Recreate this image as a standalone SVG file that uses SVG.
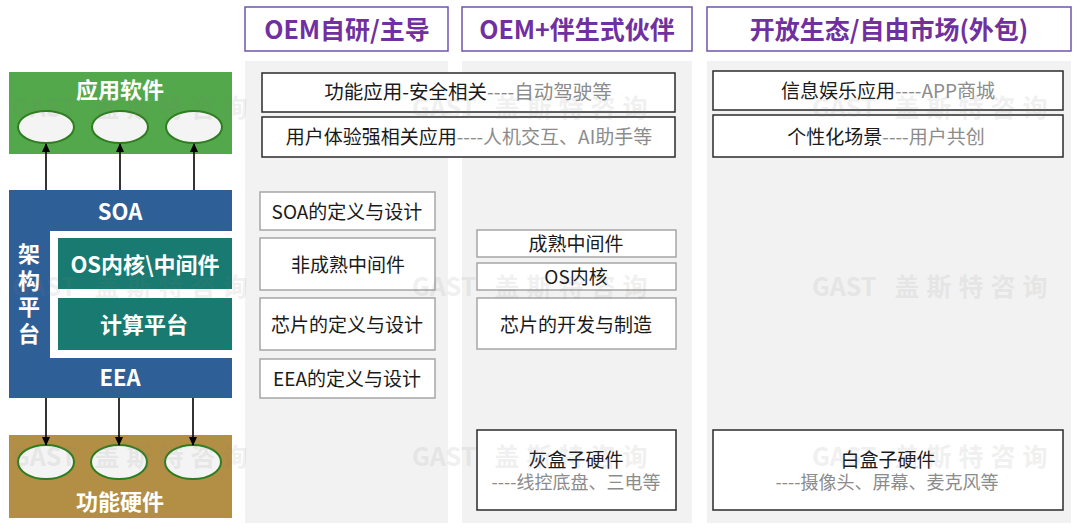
<svg xmlns="http://www.w3.org/2000/svg" width="1080" height="532" viewBox="0 0 1080 532">
<defs>
<style>
.t{font-family:"Noto Sans CJK SC","Noto Sans",sans-serif;dominant-baseline:central;text-anchor:middle}
.wb{fill:#fff;font-weight:bold;font-size:22px}
.hd{fill:#7030a0;font-weight:bold;font-size:25px}
.bx{font-size:19px;fill:#1a1a1a}
.g{fill:#8c8c8c}
.sm{font-size:18px}
.hbox{fill:#fff;stroke:#6f55a8;stroke-width:1.5}
.panel{fill:#f2f2f2}
.dk{fill:#fff;stroke:#2b2b2b;stroke-width:1.5}
.lt{fill:#fff;stroke:#a6a6a6;stroke-width:1.5}
.ell{fill:#f4f4f4;stroke:#2e7d1f;stroke-width:2}
.wm{font-family:"Noto Sans CJK SC","Noto Sans",sans-serif;font-weight:bold;font-size:25px;fill:#808080;opacity:0.11;dominant-baseline:central}
.arr{stroke:#000;stroke-width:1.6;fill:none;marker-end:url(#ah)}
</style>
<marker id="ah" markerWidth="10" markerHeight="10" refX="8" refY="5" orient="auto" markerUnits="userSpaceOnUse">
<path d="M0,1 L9,5 L0,9 Z" fill="#000"/>
</marker>
</defs>
<rect width="1080" height="532" fill="#fff"/>

<g id="headers">
<rect class="hbox" x="245" y="7" width="203" height="44"/>
<text class="t hd" x="347" y="28">OEM自研/主导</text>
<rect class="hbox" x="462" y="7" width="230" height="44"/>
<text class="t hd" x="577" y="28">OEM+伴生式伙伴</text>
<rect class="hbox" x="707" y="7" width="364" height="44"/>
<text class="t hd" x="889" y="28">开放生态/自由市场(外包)</text>
</g>

<g id="panels">
<rect class="panel" x="245" y="61" width="203" height="462"/>
<rect class="panel" x="462" y="61" width="230" height="462"/>
<rect class="panel" x="707" y="61" width="364" height="462"/>
</g>

<g id="app-software">
<rect x="9" y="72" width="223" height="82" fill="#52a84a"/>
<text class="t wb" x="120" y="88">应用软件</text>
<ellipse class="ell" cx="46" cy="127" rx="28" ry="16"/>
<ellipse class="ell" cx="120" cy="127" rx="28" ry="16"/>
<ellipse class="ell" cx="194" cy="127" rx="28" ry="16"/>
</g>

<g id="arch-platform">
<rect x="9" y="190" width="223" height="208" fill="#2f5f97"/>
<rect x="50" y="231" width="182" height="127" fill="#fff"/>
<text class="t wb" x="120" y="210">SOA</text>
<text class="t wb" x="120" y="376">EEA</text>
<text class="wb" x="29" y="243" style="font-family:'Noto Sans CJK SC',sans-serif;writing-mode:vertical-rl;letter-spacing:4.5px;text-anchor:start">架构平台</text>
</g>
<g id="os-kernel">
<rect x="58" y="238" width="174" height="51" fill="#187a70"/>
<text class="t wb" x="145" y="263">OS内核\中间件</text>
</g>
<g id="compute-platform">
<rect x="58" y="298" width="174" height="52" fill="#187a70"/>
<text class="t wb" x="144" y="323">计算平台</text>
</g>

<g id="func-hardware">
<rect x="9" y="435" width="223" height="83" fill="#b38f45"/>
<ellipse class="ell" cx="46" cy="462" rx="28" ry="17"/>
<ellipse class="ell" cx="119" cy="462" rx="28" ry="17"/>
<ellipse class="ell" cx="193" cy="462" rx="28" ry="17"/>
<text class="t wb" x="120" y="500">功能硬件</text>
</g>

<g id="connectors">
<line class="arr" x1="46" y1="190" x2="46" y2="144"/>
<line class="arr" x1="120" y1="190" x2="120" y2="144"/>
<line class="arr" x1="194" y1="190" x2="194" y2="144"/>
<line class="arr" x1="46" y1="398" x2="46" y2="445"/>
<line class="arr" x1="119" y1="398" x2="119" y2="445"/>
<line class="arr" x1="193" y1="398" x2="193" y2="445"/>
</g>

<g id="safety-apps">
<rect class="dk" x="262" y="73" width="413" height="39"/>
<text class="t bx" x="468" y="90" style="font-size:19.5px">功能应用-安全相关<tspan class="g">----自动驾驶等</tspan></text>
</g>
<g id="ux-apps">
<rect class="dk" x="262" y="117" width="413" height="40"/>
<text class="t bx" x="469" y="135">用户体验强相关应用<tspan class="g">----人机交互、AI助手等</tspan></text>
</g>
<g id="soa-def">
<rect class="lt" x="260" y="192" width="175" height="38"/>
<text class="t bx" x="347" y="210">SOA的定义与设计</text>
</g>
<g id="immature-mw">
<rect class="lt" x="260" y="238" width="175" height="52"/>
<text class="t bx" x="348" y="263">非成熟中间件</text>
</g>
<g id="chip-def">
<rect class="lt" x="260" y="298" width="175" height="52"/>
<text class="t bx" x="347" y="323">芯片的定义与设计</text>
</g>
<g id="eea-def">
<rect class="lt" x="260" y="359" width="175" height="39"/>
<text class="t bx" x="347" y="377">EEA的定义与设计</text>
</g>
<g id="mature-mw">
<rect class="lt" x="477" y="230" width="199" height="27"/>
<text class="t bx" x="576" y="242">成熟中间件</text>
</g>
<g id="os-core">
<rect class="lt" x="477" y="263" width="199" height="27"/>
<text class="t bx" x="576" y="275">OS内核</text>
</g>
<g id="chip-dev">
<rect class="lt" x="477" y="298" width="199" height="51"/>
<text class="t bx" x="576" y="323">芯片的开发与制造</text>
</g>
<g id="gray-box-hw">
<rect class="dk" x="477" y="430" width="199" height="80"/>
<text class="t bx" x="576" y="458">灰盒子硬件</text>
<text class="t bx g sm" x="576" y="481">----线控底盘、三电等</text>
</g>
<g id="infotainment">
<rect class="dk" x="713" y="71" width="350" height="39"/>
<text class="t bx" x="888" y="89">信息娱乐应用<tspan class="g">----APP商城</tspan></text>
</g>
<g id="personal-scenes">
<rect class="dk" x="713" y="115" width="350" height="42"/>
<text class="t bx" x="886" y="135">个性化场景<tspan class="g">----用户共创</tspan></text>
</g>
<g id="white-box-hw">
<rect class="dk" x="713" y="430" width="350" height="80"/>
<text class="t bx" x="888" y="458">白盒子硬件</text>
<text class="t bx g sm" x="887" y="481">----摄像头、屏幕、麦克风等</text>
</g>

<g id="watermarks">
<text class="wm" x="12" y="106">GAST<tspan dx="18" letter-spacing="7">盖斯特咨询</tspan></text>
<text class="wm" x="412" y="106">GAST<tspan dx="18" letter-spacing="7">盖斯特咨询</tspan></text>
<text class="wm" x="812" y="106">GAST<tspan dx="18" letter-spacing="7">盖斯特咨询</tspan></text>
<text class="wm" x="12" y="285">GAST<tspan dx="18" letter-spacing="7">盖斯特咨询</tspan></text>
<text class="wm" x="412" y="285">GAST<tspan dx="18" letter-spacing="7">盖斯特咨询</tspan></text>
<text class="wm" x="812" y="285">GAST<tspan dx="18" letter-spacing="7">盖斯特咨询</tspan></text>
<text class="wm" x="12" y="455">GAST<tspan dx="18" letter-spacing="7">盖斯特咨询</tspan></text>
<text class="wm" x="412" y="455">GAST<tspan dx="18" letter-spacing="7">盖斯特咨询</tspan></text>
<text class="wm" x="812" y="455">GAST<tspan dx="18" letter-spacing="7">盖斯特咨询</tspan></text>
</g>
</svg>
